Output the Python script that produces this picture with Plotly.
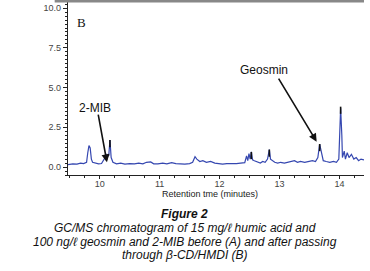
import plotly.graph_objects as go

# Chromatogram (B): retention time (min) vs abundance
times = [9.47, 9.55, 9.62, 9.68, 9.73, 9.78, 9.80, 9.82, 9.84, 9.86, 9.88, 9.93, 9.98,
         10.03, 10.08, 10.12, 10.15, 10.17, 10.19, 10.22, 10.28, 10.35, 10.42, 10.50,
         10.58, 10.65, 10.72, 10.78, 10.85, 10.90, 10.97, 11.05, 11.12, 11.20, 11.27,
         11.35, 11.42, 11.50, 11.55, 11.59, 11.62, 11.67, 11.72, 11.78, 11.85, 11.92,
         11.98, 12.05, 12.12, 12.20, 12.28, 12.35, 12.42, 12.45, 12.47, 12.49, 12.51,
         12.53, 12.55, 12.58, 12.63, 12.68, 12.72, 12.76, 12.80, 12.83, 12.85, 12.88,
         12.92, 12.97, 13.02, 13.08, 13.14, 13.20, 13.25, 13.30, 13.35, 13.42, 13.48,
         13.55, 13.60, 13.64, 13.67, 13.70, 13.73, 13.78, 13.84, 13.90, 13.95, 13.99,
         14.01, 14.02, 14.04, 14.05, 14.08, 14.10, 14.13, 14.16, 14.20, 14.24, 14.28,
         14.32, 14.36, 14.41]
abundance = [0.15, 0.20, 0.18, 0.25, 0.22, 0.30, 0.90, 1.35, 1.20, 0.50, 0.30, 0.25, 0.20,
             0.22, 0.50, 0.80, 0.70, 1.70, 0.60, 0.30, 0.20, 0.25, 0.18, 0.22,
             0.20, 0.25, 0.20, 0.30, 0.32, 0.20, 0.20, 0.25, 0.20, 0.28, 0.22,
             0.20, 0.18, 0.22, 0.30, 0.65, 0.50, 0.35, 0.40, 0.30, 0.35, 0.25,
             0.20, 0.18, 0.22, 0.20, 0.22, 0.25, 0.28, 0.70, 0.40, 0.85, 0.50,
             0.95, 0.45, 0.40, 0.30, 0.25, 0.35, 0.30, 0.50, 1.10, 0.50, 0.40,
             0.30, 0.25, 0.30, 0.25, 0.30, 0.35, 0.40, 0.30, 0.35, 0.30, 0.35,
             0.40, 0.35, 0.60, 1.45, 0.80, 0.40, 0.35, 0.30, 0.35, 0.30, 0.50,
             2.20, 3.70, 2.00, 0.60, 1.00, 0.50, 0.90, 0.60, 0.80, 0.50, 0.60,
             0.40, 0.50, 0.45]

# integration markers at peak tops
peak_times = [10.17, 12.53, 12.83, 13.67, 14.02]
peak_tops = [1.70, 0.95, 1.10, 1.45, 3.80]

y_ticks = [0.0, 2.5, 5.0, 7.5, 10.0]
x_ticks = [10, 11, 12, 13, 14]

seg_x, seg_y = [], []
for t, v in zip(peak_times, peak_tops):
    seg_x += [t, t, None]
    seg_y += [v - 0.45, v, None]

fig = go.Figure()
fig.add_trace(go.Scatter(x=times, y=abundance, mode="lines",
                         line=dict(color="#3547b0", width=1.2), hoverinfo="skip"))
fig.add_trace(go.Scatter(x=seg_x, y=seg_y, mode="lines",
                         line=dict(color="#111111", width=1.6), hoverinfo="skip"))

tickfont = dict(family="Liberation Sans, Arial, sans-serif", size=9, color="#444444")

fig.update_layout(
    width=370, height=271,
    margin=dict(l=68, r=6, t=1, b=96),
    paper_bgcolor="white", plot_bgcolor="white",
    showlegend=False,
    xaxis=dict(range=[9.47, 14.41], tickvals=x_ticks, ticktext=[str(v) for v in x_ticks],
               automargin=False, ticklabelstandoff=-3,
               showgrid=False, zeroline=False, showline=True, linecolor="#222222", linewidth=1.2,
               ticks="outside", ticklen=3, tickcolor="#222222", tickfont=tickfont,
               minor=dict(ticks="outside", dtick=0.25, ticklen=2, tickcolor="#222222")),
    yaxis=dict(range=[-0.5, 10.45], tickvals=y_ticks, ticktext=["0.0", "2.5", "5.0", "7.5", "10.0"],
               automargin=False,
               showgrid=False, zeroline=False, showline=True, linecolor="#222222", linewidth=1.2,
               ticks="outside", ticklen=4, tickcolor="#222222", tickfont=tickfont,
               minor=dict(ticks="outside", dtick=0.25, ticklen=2, tickcolor="#222222")),
    yaxis2=dict(range=[-0.5, 10.45], overlaying="y", side="right", tickvals=y_ticks,
                automargin=False,
                showticklabels=False, showgrid=False, zeroline=False, showline=True,
                linecolor="#555555", linewidth=1.5, ticks="inside", ticklen=4, tickcolor="#333333"),
)

# top border
fig.add_shape(type="line", xref="paper", yref="paper", x0=-0.045, x1=1.0, y0=1.0, y1=1.0,
              line=dict(color="#888888", width=3))

ann_font = dict(family="Liberation Sans, Arial, sans-serif", size=12, color="#111111")
fig.add_annotation(x=9.92, y=3.7, text="2-MIB", showarrow=False, font=ann_font)
fig.add_annotation(x=10.12, y=0.3, ax=9.97, ay=3.4, axref="x", ayref="y", text="",
                   showarrow=True, arrowhead=2, arrowsize=1, arrowwidth=1.6, arrowcolor="#111111")
fig.add_annotation(x=12.74, y=6.1, text="Geosmin", showarrow=False, font=ann_font)
fig.add_annotation(x=13.62, y=1.6, ax=12.97, ay=5.66, axref="x", ayref="y", text="",
                   showarrow=True, arrowhead=2, arrowsize=1, arrowwidth=1.6, arrowcolor="#111111")
fig.add_annotation(x=9.70, y=9.1, text="B", showarrow=False,
                   font=dict(family="Liberation Serif, Times New Roman, serif", size=13, color="#111111"))

fig.add_annotation(xref="paper", yref="paper", x=0.48, y=-0.112, text="Retention tme (minutes)",
                   showarrow=False, xanchor="center", yanchor="middle",
                   font=dict(family="Liberation Sans, Arial, sans-serif", size=9, color="#222222"))

cap_font = dict(family="Liberation Sans, Arial, sans-serif", size=12, color="#111111")
captions = [
    ("<b><i>Figure 2</i></b>", -0.224),
    ("<i>GC/MS chromatogram of 15 mg/ℓ humic acid and</i>", -0.305),
    ("<i>100 ng/ℓ geosmin and 2-MIB before (A) and after passing</i>", -0.385),
    ("<i>through β-CD/HMDI (B)</i>", -0.458),
]
for txt, yy in captions:
    fig.add_annotation(xref="paper", yref="paper", x=0.395, y=yy, text=txt, showarrow=False,
                       font=cap_font, xanchor="center", yanchor="middle")

fig.write_html("out.html", config={"displayModeBar": False},
               post_script="document.body.style.margin='0';document.body.style.overflow='hidden';")
